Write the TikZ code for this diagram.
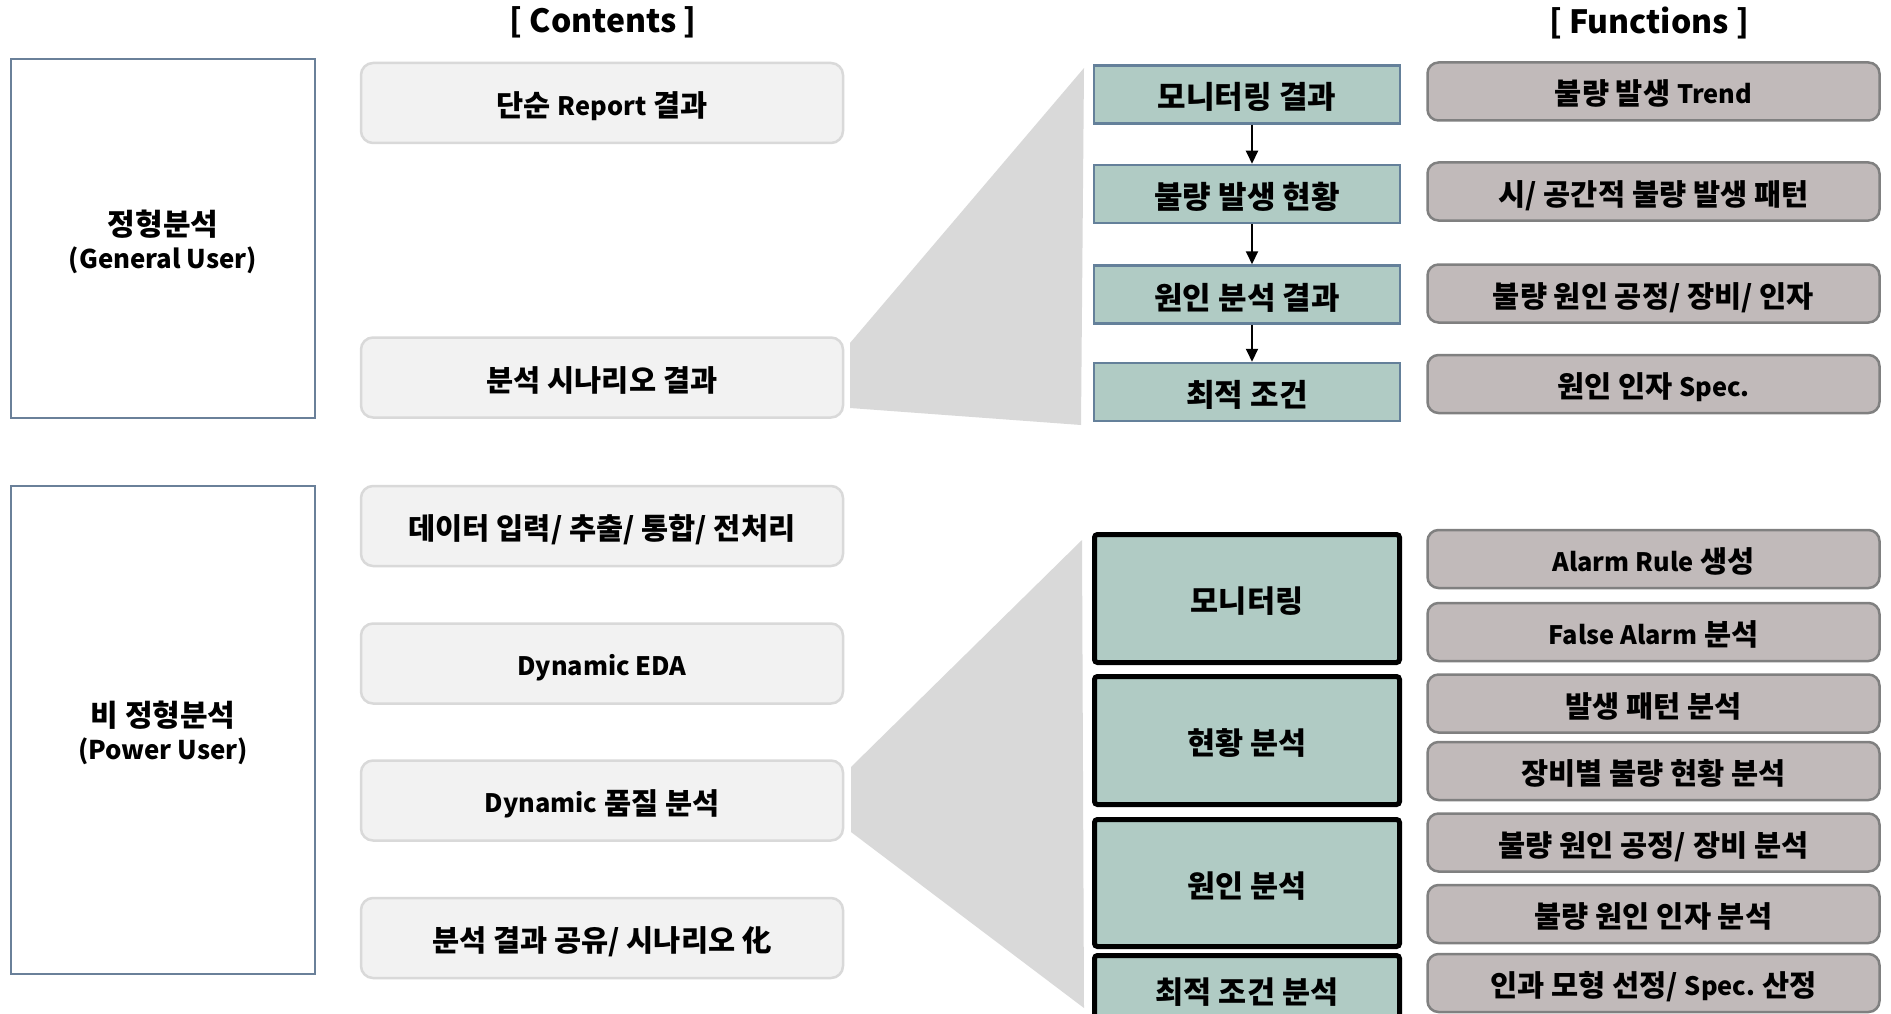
\documentclass[tikz,border=0pt]{standalone}
\usepackage{fontspec}
\setmainfont{Noto Sans CJK KR}
\newfontfamily\latfont{Noto Sans CJK KR}[Scale=0.86]
\newcommand\latn[1]{\raisebox{1.2pt}{\latfont #1}}
\usetikzlibrary{arrows.meta}
\definecolor{slate}{HTML}{6A8099}
\definecolor{cfill}{HTML}{F2F2F2}
\definecolor{cline}{HTML}{D9D9D9}
\definecolor{calloutgray}{HTML}{D9D9D9}
\definecolor{tealbox}{HTML}{B0CBC4}
\definecolor{tline}{HTML}{64809A}
\definecolor{ffill}{HTML}{C1BABA}
\definecolor{fline}{HTML}{808080}
\begin{document}
\begin{tikzpicture}[x=1pt,y=-1pt,
  txt/.style={font=\bfseries\fontsize{30}{34}\selectfont, align=center, text=black, inner sep=0pt},
  headtxt/.style={font=\bfseries\fontsize{32}{38}\selectfont, text=black, inner sep=0pt},
  userbox/.style={draw=slate, line width=2.5pt, fill=white, minimum width=304pt, inner sep=0pt},
  cbox/.style={txt, font=\bfseries\fontsize{29.5}{34}\selectfont, text height=27pt, text depth=0pt,
    draw=cline, fill=cfill, line width=2.5pt, rounded corners=12pt, minimum width=482pt, minimum height=80pt},
  tbox/.style={txt, font=\bfseries\fontsize{31}{34}\selectfont, text height=29pt, text depth=0pt,
    draw=tline, fill=tealbox, line width=2.5pt, minimum width=306pt, minimum height=58pt},
  kbox/.style={txt, font=\bfseries\fontsize{30.5}{34}\selectfont, text height=28.5pt, text depth=0pt,
    draw=black, fill=tealbox, line width=5pt, rounded corners=3pt, minimum width=305pt},
  funcbox/.style={txt, font=\bfseries\fontsize{29.5}{34}\selectfont, text height=27pt, text depth=0pt,
    draw=fline, fill=ffill, line width=2.5pt, rounded corners=11pt, minimum width=452pt, minimum height=58pt},
  flow/.style={-{Triangle[length=13pt,width=12pt]}, line width=2pt, draw=black}
]
\useasboundingbox (0,0) rectangle (1891,1014);
\clip (0,0) rectangle (1891,1014);
\fill[white] (0,0) rectangle (1891,1014);

% headers
\node[headtxt] (hcont) at (603,22) {[ Contents ]};
\node[headtxt] (hfunc) at (1649,23) {[ Functions ]};

% callout wedges
\fill[calloutgray] (850,343) -- (1084,68) -- (1081,425) -- (850,408) -- cycle;
\fill[calloutgray] (851,767) -- (1082,540) -- (1084,1008) -- (851,832) -- cycle;

% user boxes
\node[userbox, minimum height=359pt] (ua) at (163,238.5) {};
\node[txt] (uatext) at (163,242) {정형분석\\\latn{(General User)}};
\node[userbox, minimum height=488pt] (ub) at (163,730) {};
\node[txt] (ubtext) at (163,733) {비 정형분석\\\latn{(Power User)}};

% contents
\node[cbox] (c1) at (602,103) {단순 \latn{Report} 결과};
\node[cbox] (c2) at (602,377.5) {분석 시나리오 결과};
\node[cbox] (c3) at (602,526) {데이터 입력/ 추출/ 통합/ 전처리};
\node[cbox] (c4) at (602,663.5) {\latn{Dynamic EDA}};
\node[cbox] (c5) at (602,800.5) {\latn{Dynamic} 품질 분석};
\node[cbox] (c6) at (602,938) {분석 결과 공유/ 시나리오 化};

% teal flow boxes (top)
\node[tbox] (t1) at (1247,94.5) {모니터링 결과};
\node[tbox] (t2) at (1247,194) {불량 발생 현황};
\node[tbox] (t3) at (1247,294.5) {원인 분석 결과};
\node[tbox] (t4) at (1247,392) {최적 조건};
\draw[flow] ([xshift=5pt]t1.south) -- ([xshift=5pt]t2.north);
\draw[flow] ([xshift=5pt]t2.south) -- ([xshift=5pt]t3.north);
\draw[flow] ([xshift=5pt]t3.south) -- ([xshift=5pt]t4.north);

% thick boxes (bottom)
\node[kbox, minimum height=128pt] (k1) at (1247,598.5) {모니터링};
\node[kbox, minimum height=128pt] (k2) at (1247,740.5) {현황 분석};
\node[kbox, minimum height=127pt] (k3) at (1247,883) {원인 분석};
\node[kbox, minimum height=67pt] (k4) at (1247,989) {최적 조건 분석};

% functions (top)
\node[funcbox] (f1) at (1653.5,91.5) {불량 발생 \latn{Trend}};
\node[funcbox] (f2) at (1653.5,191.5) {시/ 공간적 불량 발생 패턴};
\node[funcbox] (f3) at (1653.5,293.5) {불량 원인 공정/ 장비/ 인자};
\node[funcbox] (f4) at (1653.5,384) {원인 인자 \latn{Spec.}};

% functions (bottom)
\node[funcbox] (g1) at (1653.5,559) {\latn{Alarm Rule} 생성};
\node[funcbox] (g2) at (1653.5,632) {\latn{False Alarm} 분석};
\node[funcbox] (g3) at (1653.5,703.5) {발생 패턴 분석};
\node[funcbox] (g4) at (1653.5,771) {장비별 불량 현황 분석};
\node[funcbox] (g5) at (1653.5,842.5) {불량 원인 공정/ 장비 분석};
\node[funcbox] (g6) at (1653.5,914) {불량 원인 인자 분석};
\node[funcbox] (g7) at (1653.5,983) {인과 모형 선정/ \latn{Spec.} 산정};
\end{tikzpicture}
\end{document}
